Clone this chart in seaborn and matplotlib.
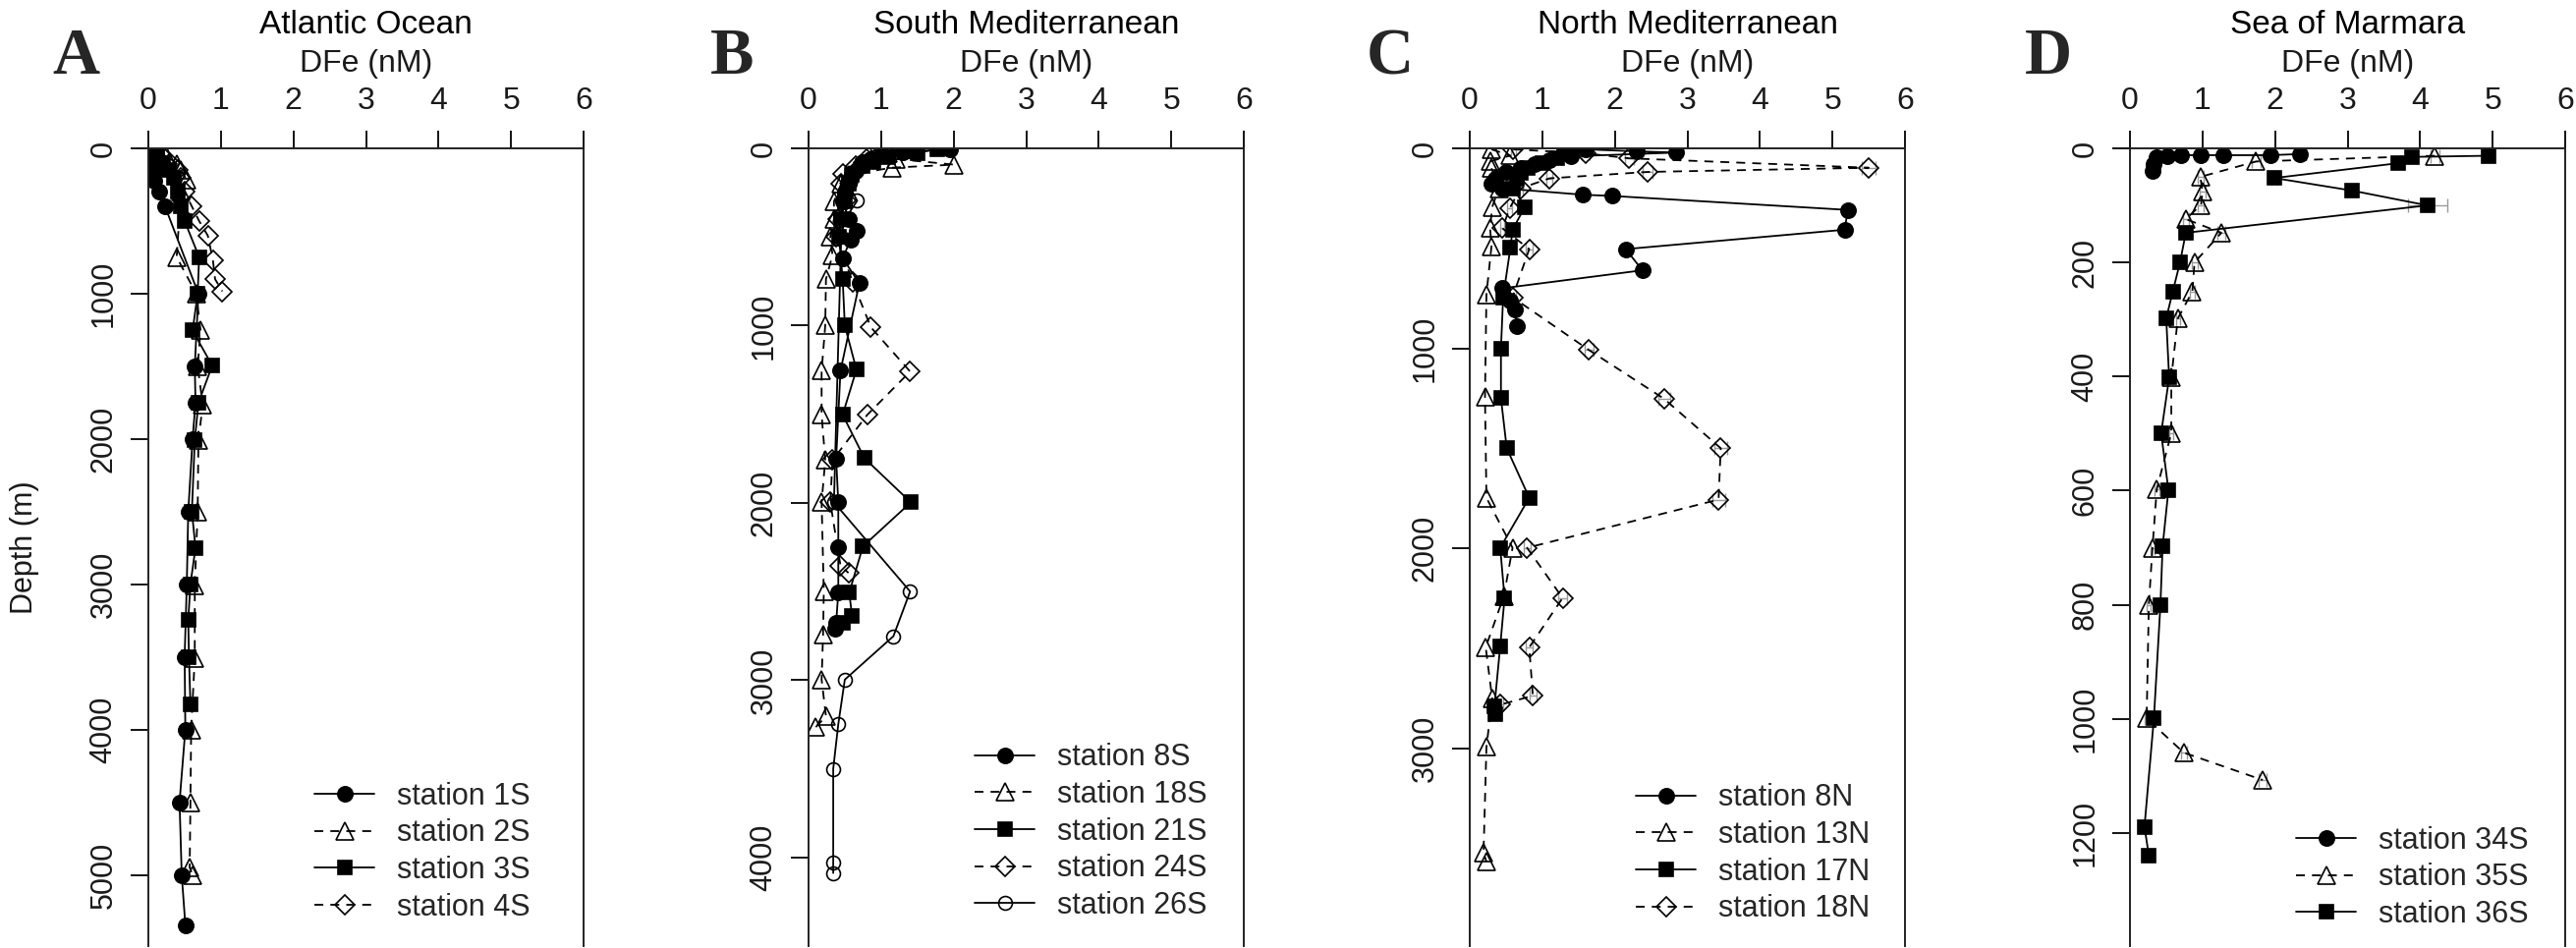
import numpy as np
import pandas as pd
import matplotlib
matplotlib.use('Agg')
import matplotlib.pyplot as plt
import matplotlib.transforms as mtransforms
import seaborn as sns

# ---- Atlantic Ocean ----
a_1s_depth = [5, 25, 50, 75, 100, 150, 220, 300, 400, 1000, 1500, 1750, 2000, 2500, 3000, 3500, 4000, 4500, 5000, 5345]
a_1s_dfe = [0.04, 0.05, 0.06, 0.07, 0.08, 0.10, 0.08, 0.15, 0.23, 0.69, 0.64, 0.65, 0.61, 0.55, 0.53, 0.50, 0.51, 0.43, 0.46, 0.51]
a_2s_depth = [10, 50, 106, 150, 219, 300, 748, 1000, 1254, 1500, 1765, 2010, 2500, 3007, 3509, 4003, 4506, 4950, 5000]
a_2s_dfe = [0.12, 0.25, 0.39, 0.45, 0.53, 0.45, 0.39, 0.66, 0.72, 0.68, 0.75, 0.69, 0.68, 0.64, 0.64, 0.59, 0.58, 0.57, 0.61]
a_3s_depth = [10, 50, 100, 150, 200, 300, 400, 500, 748, 1000, 1254, 1495, 1752, 2010, 2500, 2749, 3000, 3247, 3500, 3829]
a_3s_dfe = [0.05, 0.12, 0.20, 0.28, 0.35, 0.40, 0.45, 0.50, 0.70, 0.68, 0.61, 0.88, 0.69, 0.64, 0.60, 0.65, 0.58, 0.55, 0.56, 0.58]
a_4s_depth = [10, 50, 100, 150, 200, 300, 400, 500, 601, 770, 900, 984]
a_4s_dfe = [0.10, 0.18, 0.30, 0.40, 0.45, 0.50, 0.60, 0.70, 0.82, 0.89, 0.92, 1.02]

# ---- South Mediterranean ----
b_8s_depth = [5, 20, 40, 60, 80, 100, 125, 150, 200, 250, 300, 400, 466, 517, 619, 762, 1255, 1752, 1997, 2252, 2507, 2677, 2711]
b_8s_dfe = [1.95, 1.30, 1.00, 0.85, 0.75, 0.70, 0.65, 0.60, 0.55, 0.50, 0.48, 0.55, 0.67, 0.58, 0.47, 0.70, 0.44, 0.38, 0.41, 0.41, 0.41, 0.38, 0.37]
b_18s_depth = [5, 30, 60, 92, 109, 150, 200, 300, 400, 500, 602, 738, 1000, 1255, 1503, 1759, 1997, 2500, 2745, 2997, 3204, 3265]
b_18s_dfe = [1.40, 1.10, 1.20, 2.01, 1.15, 0.55, 0.45, 0.35, 0.35, 0.30, 0.33, 0.24, 0.23, 0.18, 0.18, 0.23, 0.18, 0.21, 0.20, 0.18, 0.24, 0.10]
b_21s_depth = [5, 25, 50, 75, 100, 150, 200, 300, 400, 500, 738, 1000, 1248, 1503, 1748, 1997, 2245, 2507, 2636, 2677]
b_21s_dfe = [1.78, 1.50, 1.10, 0.90, 0.75, 0.60, 0.55, 0.50, 0.45, 0.42, 0.47, 0.50, 0.66, 0.47, 0.77, 1.41, 0.75, 0.56, 0.60, 0.47]
b_24s_depth = [5, 30, 60, 100, 143, 200, 296, 400, 500, 755, 1010, 1259, 1503, 1759, 1997, 2354, 2395]
b_24s_dfe = [1.20, 1.00, 0.80, 0.65, 0.47, 0.45, 0.52, 0.40, 0.38, 0.61, 0.86, 1.40, 0.81, 0.33, 0.30, 0.44, 0.55]
b_26s_depth = [5, 25, 50, 100, 150, 200, 296, 400, 500, 1997, 2500, 2752, 2997, 3248, 3500, 4031, 4088]
b_26s_dfe = [0.95, 1.10, 0.90, 0.75, 0.60, 0.55, 0.67, 0.50, 0.45, 0.35, 1.40, 1.17, 0.50, 0.41, 0.34, 0.34, 0.34]

# ---- North Mediterranean ----
c_8n_depth = [5, 15, 21, 40, 60, 80, 100, 120, 150, 175, 200, 232, 238, 308, 407, 504, 610, 700, 760, 806, 887]
c_8n_dfe = [1.60, 2.30, 2.85, 1.40, 1.10, 0.90, 0.70, 0.50, 0.35, 0.30, 0.45, 1.56, 1.96, 5.21, 5.17, 2.15, 2.38, 0.45, 0.55, 0.62, 0.65]
c_13n_depth = [5, 36, 66, 100, 150, 200, 293, 398, 489, 730, 1244, 1748, 1998, 2240, 2496, 2753, 2994, 3523, 3568]
c_13n_dfe = [0.30, 0.56, 0.28, 0.30, 0.35, 0.40, 0.31, 0.28, 0.30, 0.23, 0.21, 0.23, 0.59, 0.47, 0.22, 0.31, 0.23, 0.19, 0.23]
c_17n_depth = [5, 25, 50, 75, 100, 125, 150, 200, 293, 407, 498, 745, 1002, 1250, 1500, 1748, 1998, 2249, 2490, 2792, 2828]
c_17n_dfe = [1.40, 1.30, 1.20, 1.00, 0.80, 0.70, 0.65, 0.60, 0.76, 0.59, 0.56, 0.46, 0.43, 0.43, 0.51, 0.82, 0.42, 0.48, 0.42, 0.34, 0.35]
c_18n_depth = [5, 25, 50, 97, 118, 150, 200, 300, 400, 504, 745, 1008, 1253, 1500, 1757, 1998, 2249, 2496, 2738, 2783]
c_18n_dfe = [0.60, 1.60, 2.20, 5.50, 2.45, 1.10, 0.70, 0.55, 0.45, 0.82, 0.59, 1.64, 2.68, 3.46, 3.43, 0.79, 1.28, 0.82, 0.87, 0.42]
c_18n_err = [0.03, 0.05, 0.06, 0.10, 0.07, 0.04, 0.03, 0.03, 0.03, 0.05, 0.04, 0.06, 0.08, 0.09, 0.09, 0.05, 0.06, 0.05, 0.05, 0.04]

# ---- Sea of Marmara ----
d_34s_depth = [10, 12, 12, 12, 12, 13, 16, 28, 40]
d_34s_dfe = [2.34, 1.94, 1.29, 0.97, 0.71, 0.51, 0.37, 0.33, 0.31]
d_35s_depth = [13, 23, 50, 76, 99, 124, 148, 200, 251, 298, 402, 499, 597, 700, 800, 999, 1059, 1107]
d_35s_dfe = [4.20, 1.74, 0.97, 1.00, 0.98, 0.77, 1.26, 0.89, 0.86, 0.66, 0.57, 0.57, 0.37, 0.31, 0.26, 0.23, 0.74, 1.83]
d_35s_err = [0.06, 0.06, 0.04, 0.04, 0.04, 0.04, 0.05, 0.04, 0.04, 0.03, 0.03, 0.03, 0.03, 0.03, 0.03, 0.03, 0.04, 0.05]
d_36s_depth = [13, 15, 26, 52, 74, 100, 148, 200, 251, 298, 402, 499, 599, 698, 800, 999, 1189, 1239]
d_36s_dfe = [4.94, 3.89, 3.70, 1.99, 3.06, 4.10, 0.77, 0.69, 0.59, 0.50, 0.54, 0.43, 0.53, 0.45, 0.42, 0.33, 0.20, 0.26]
d_36s_err = [0.06, 0.06, 0.06, 0.04, 0.05, 0.27, 0.04, 0.04, 0.03, 0.03, 0.03, 0.03, 0.03, 0.03, 0.03, 0.03, 0.03, 0.03]

panel_titles = ['Atlantic Ocean', 'South Mediterranean', 'North Mediterranean', 'Sea of Marmara']
panel_letters = ['A', 'B', 'C', 'D']
depth_ticks = [[0, 1000, 2000, 3000, 4000, 5000], [0, 1000, 2000, 3000, 4000],
               [0, 1000, 2000, 3000], [0, 200, 400, 600, 800, 1000, 1200]]
depth_max = [5490, 4500, 3990, 1398]

panels = [
    [('station 1S', a_1s_dfe, a_1s_depth, None), ('station 2S', a_2s_dfe, a_2s_depth, None),
     ('station 3S', a_3s_dfe, a_3s_depth, None), ('station 4S', a_4s_dfe, a_4s_depth, None)],
    [('station 8S', b_8s_dfe, b_8s_depth, None), ('station 18S', b_18s_dfe, b_18s_depth, None),
     ('station 21S', b_21s_dfe, b_21s_depth, None), ('station 24S', b_24s_dfe, b_24s_depth, None),
     ('station 26S', b_26s_dfe, b_26s_depth, None)],
    [('station 8N', c_8n_dfe, c_8n_depth, None), ('station 13N', c_13n_dfe, c_13n_depth, None),
     ('station 17N', c_17n_dfe, c_17n_depth, None), ('station 18N', c_18n_dfe, c_18n_depth, c_18n_err)],
    [('station 34S', d_34s_dfe, d_34s_depth, None), ('station 35S', d_35s_dfe, d_35s_depth, d_35s_err),
     ('station 36S', d_36s_dfe, d_36s_depth, d_36s_err)],
]

# marker / line style by position within a panel (R pch 16, 2, 15, 5, 1)
DASH = (0, (5, 4))
STYLES = [
    dict(marker='o', mfc='black', ls='-', ms=11),
    dict(marker='^', mfc='none', ls=DASH, ms=13),
    dict(marker='s', mfc='black', ls='-', ms=10.5),
    dict(marker='D', mfc='none', ls=DASH, ms=10),
    dict(marker='o', mfc='none', ls='-', ms=10),
]

sns.set_style('white')
plt.rcParams['font.family'] = ['Liberation Sans', 'DejaVu Sans']

W, H = 2622, 965
fig = plt.figure(figsize=(W / 100, H / 100), dpi=100)
ax_left = [151, 823, 1496, 2168]
letter_x = [53, 723, 1391, 2061]
ink = '#1a1a1a'

for k in range(4):
    ax = fig.add_axes([ax_left[k] / W, 2 / H, 443 / W, (963 - 151) / H])
    for i, (label, dfe, depth, err) in enumerate(panels[k]):
        st = STYLES[i]
        if err is not None:
            ax.errorbar(dfe, depth, xerr=err, fmt='none', ecolor='#9a9a9a',
                        elinewidth=1.0, capsize=5, capthick=1.0, zorder=1)
        df = pd.DataFrame({'dfe': dfe, 'depth': depth})
        sns.lineplot(data=df, x='dfe', y='depth', sort=False, estimator=None, ax=ax,
                     color='black', lw=1.3, linestyle=st['ls'], marker=st['marker'],
                     ms=st['ms'], mfc=st['mfc'], mec='black', mew=1.2, label=label,
                     zorder=2)
    ax.set_xlim(0, 6)
    ax.set_ylim(depth_max[k], 0)
    ax.set_xticks(range(7))
    ax.set_yticks(depth_ticks[k])
    ax.xaxis.tick_top()
    ax.tick_params(axis='x', top=True, bottom=False, labeltop=True, labelbottom=False,
                   length=13, width=1.3, pad=11, labelsize=23, colors='black', labelcolor=ink)
    ax.tick_params(axis='y', left=True, length=13, width=1.3, pad=9, labelsize=22,
                   colors='black', labelcolor=ink, labelrotation=90)
    for t in ax.get_yticklabels():
        t.set_va('center')
    for side in ['top', 'left', 'right']:
        ax.spines[side].set_color('#222222')
        ax.spines[side].set_linewidth(1.4)
    ax.spines['bottom'].set_visible(False)
    ax.set_xlabel('')
    ax.set_ylabel('')

    tr = mtransforms.blended_transform_factory(ax.transAxes, fig.transFigure)
    ax.text(0.5, 1 - 34 / H, panel_titles[k], transform=tr, ha='center', va='baseline',
            fontsize=24, color='black')
    ax.text(0.5, 1 - 73 / H, 'DFe (nM)', transform=tr, ha='center', va='baseline',
            fontsize=23, color=ink)
    fig.text(letter_x[k] / W, 1 - 75 / H, panel_letters[k], ha='left', va='baseline',
             fontsize=48, fontweight='bold', family='Liberation Serif')

    leg_bottom = [0.030, 0.032, 0.028, 0.021][k]
    ax.legend(loc='lower left', bbox_to_anchor=(169 / 443, leg_bottom), frameon=False,
              fontsize=22, handlelength=2.0, handletextpad=0.75, labelspacing=0.25,
              borderpad=0, borderaxespad=0)

fig.text(25 / W, 1 - 557 / H, 'Depth (m)', rotation=90, ha='center', va='center',
         fontsize=22, color=ink)

fig.savefig('out.png', dpi=100, facecolor='white')
